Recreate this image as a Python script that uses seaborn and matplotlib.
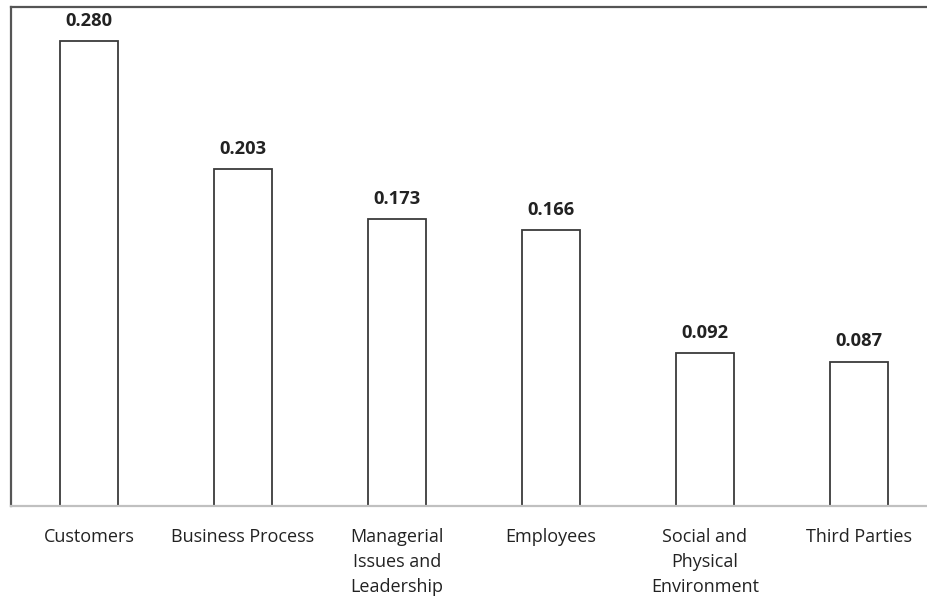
import matplotlib
matplotlib.use("Agg")
import matplotlib.pyplot as plt
import seaborn as sns
import pandas as pd

categories = ["Customers", "Business Process", "Managerial\nIssues and\nLeadership",
              "Employees", "Social and\nPhysical\nEnvironment", "Third Parties"]
weights = [0.280, 0.203, 0.173, 0.166, 0.092, 0.087]

sns.set_theme(style="white")
plt.rcParams["font.family"] = ["Open Sans", "DejaVu Sans"]

df = pd.DataFrame({"factor": categories, "weight": weights})

fig = plt.figure(figsize=(9.27, 6.01), dpi=100)
ax = fig.add_axes([11 / 927, 95 / 601, 925 / 927, 499 / 601])

sns.barplot(data=df, x="factor", y="weight", ax=ax, width=0.377,
            color="white", edgecolor="#3a3a3a", linewidth=1.3, saturation=1)

for i, v in enumerate(weights):
    ax.annotate(f"{v:.3f}", (i, v), xytext=(0, 8), textcoords="offset points",
                ha="center", va="bottom", fontsize=13.2, fontweight="bold",
                color="#222222")

ax.set_xlim(-0.506, 5.5)
ax.set_ylim(0, 0.3005)
ax.set_xlabel("")
ax.set_ylabel("")
ax.set_yticks([])
ax.tick_params(axis="x", length=0, pad=16, labelsize=13, colors="#222222")
for lab in ax.get_xticklabels():
    lab.set_linespacing(1.5)
    lab.set_va("top")

ax.spines["left"].set_color("#555555")
ax.spines["left"].set_linewidth(1.6)
ax.spines["top"].set_color("#555555")
ax.spines["top"].set_linewidth(1.6)
ax.spines["right"].set_visible(False)
ax.spines["bottom"].set_color("#c0c0c0")
ax.spines["bottom"].set_linewidth(1.6)

fig.savefig("out.png", dpi=100)
